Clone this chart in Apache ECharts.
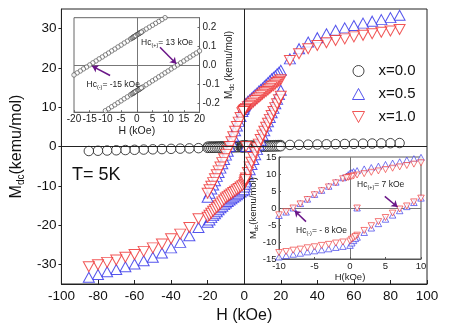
<!DOCTYPE html>
<html><head><meta charset="utf-8">
<script src="https://cdn.jsdelivr.net/npm/echarts@6/dist/echarts.min.js"></script>
<style>html,body{margin:0;padding:0;background:#fff}#c{width:474px;height:335px}</style>
</head><body><div id="c"></div>
<script>
// ---------- field grids (kOe) ----------
const H_OUT_POS = [85,80,75,70,65,60,55,50,45,40,35,30,25];
const H_OUT_NEG = [-25,-30,-35,-40,-45,-50,-55,-60,-65,-70,-75,-80,-85];
const H_DESC = [20,19,18,17,16,15,14,13,12,11,10,9,8,7,6,5,4,3,2,1,0,-1,-2,-3,-4,-5,-6,-7,-8,-9,-10,-11,-12,-13,-14,-15,-16,-17,-18,-19,-20];
const H_ASC = [-20,-19,-18,-17,-16,-15,-14,-13,-12,-11,-10,-9,-8,-7,-6,-5,-4,-3,-2,-1,0,1,2,3,4,5,6,7,8,9,10,11,12,13,14,15,16,17,18,19,20];
const H_FINE = [-1.5,-1.2,-0.9,-0.6,-0.3,0.3,0.6,0.9,1.2,1.5];
const H_ZERO_UP = [0.5,0.25,-0.25,-0.5];
const H_ZERO_LOW = [0.25,0.5,0.75];
const H_VIRGIN = [1];
const M_VIRGIN = [0];

// ---------- x = 0.0 (kemu/mol) ----------
const BLK_OUT_POS = [0.88,0.84,0.80,0.76,0.72,0.68,0.64,0.60,0.56,0.52,0.48,0.44,0.40];
const BLK_OUT_NEG = [-0.42,-0.48,-0.54,-0.60,-0.66,-0.72,-0.78,-0.84,-0.90,-0.96,-1.02,-1.08,-1.15];
const BLK_UP = [0.37,0.36,0.35,0.34,0.33,0.32,0.30,0.29,0.28,0.27,0.26,0.25,0.24,0.23,0.22,0.21,0.20,0.19,0.18,0.17,0.16,0.148,0.137,0.126,0.116,0.105,0.095,0.084,0.074,0.063,0.053,0.042,0.032,0.021,0.011,0.0,-0.011,-0.021,-0.032,-0.042,-0.053];
const BLK_LOW = [-0.347,-0.336,-0.326,-0.315,-0.305,-0.294,-0.284,-0.274,-0.263,-0.253,-0.242,-0.232,-0.221,-0.211,-0.2,-0.19,-0.179,-0.169,-0.158,-0.148,-0.137,-0.126,-0.116,-0.105,-0.095,-0.084,-0.074,-0.063,-0.053,-0.042,-0.032,-0.021,-0.011,0.0,0.011,0.021,0.032,0.042,0.053,0.063,0.074];
const BLK_UP_FINE = [0.142,0.145,0.149,0.152,0.155,0.162,0.165,0.168,0.171,0.174];
const BLK_LOW_FINE = [-0.153,-0.150,-0.146,-0.143,-0.140,-0.134,-0.131,-0.128,-0.124,-0.121];

// ---------- x = 0.5 ----------
const BLU_OUT_POS = [33.4,32.8,32.3,31.9,31.4,30.8,30.2,29.6,28.7,27.7,26.6,24.9,22.3];
const BLU_OUT_NEG = [-20.6,-22.7,-24.4,-25.8,-27.1,-28.2,-29.1,-29.9,-30.6,-31.3,-31.9,-32.6,-33.3];
const BLU_UP = [19.4,18.9,18.5,18.0,17.6,17.2,16.7,16.3,15.8,15.4,14.9,14.5,14.1,13.6,13.2,12.8,12.3,11.9,11.5,11.0,10.2,8.9,7.6,6.4,5.2,4.0,2.6,1.3,0.0,-1.2,-2.2,-3.3,-4.4,-5.5,-6.6,-7.6,-8.7,-9.8,-10.8,-11.9,-12.9];
const BLU_LOW = [-19.3,-18.7,-18.1,-17.6,-17.1,-16.6,-16.1,-15.6,-15.2,-14.8,-14.4,-14.0,-13.6,-13.3,-12.9,-12.6,-12.3,-12.0,-11.6,-11.3,-11.0,-8.6,-7.2,-5.9,-4.6,-3.3,-2.1,-0.8,0.4,1.6,2.9,4.0,5.2,6.3,7.4,8.6,9.7,10.9,12.0,13.2,14.3];
const BLU_ZERO_UP = [10.7,10.4,9.8,9.4];
const BLU_ZERO_LOW = [-10.3,-9.6,-9.0];

// ---------- x = 1.0 ----------
const RED_OUT_POS = [29.8,29.4,29.1,28.7,28.3,27.9,27.4,27.0,26.4,25.7,24.9,23.6,21.9];
const RED_OUT_NEG = [-18.4,-20.6,-22.3,-23.5,-24.8,-25.8,-26.7,-27.5,-28.2,-28.9,-29.5,-30.1,-30.6];
const RED_UP = [17.0,16.6,16.3,15.9,15.5,15.2,14.8,14.4,14.0,13.7,13.3,12.9,12.5,12.1,11.7,11.3,10.9,10.5,10.1,9.7,9.2,8.6,7.4,6.2,5.1,3.9,2.5,1.2,0.0,-1.1,-2.0,-3.1,-4.1,-5.2,-6.2,-7.2,-8.2,-9.2,-10.1,-11.0,-11.9];
const RED_LOW = [-18.0,-17.5,-17.0,-16.5,-16.0,-15.6,-15.1,-14.6,-14.1,-13.6,-13.1,-12.8,-12.4,-12.1,-11.7,-11.4,-11.0,-10.7,-10.3,-10.0,-9.7,-8.0,-6.6,-5.2,-4.0,-2.8,-1.5,-0.3,0.6,1.8,2.9,3.9,4.9,5.9,6.9,7.9,8.9,9.9,10.9,11.9,12.8];
const RED_ZERO_UP = [9.45,9.3,9.0,8.9];
const RED_ZERO_LOW = [-9.2,-8.8,-8.4];

// ---------- ticks ----------
const Y_MAIN_TICKS = [-30,-20,-10,0,10,20,30];
const Y_INSET1_TICKS = [-0.2,-0.1,0,0.1,0.2];

// ---------- build ----------
const zip = (h, m) => h.map((v, i) => [v, m[i]]);
const blackMain = [].concat(zip(H_OUT_POS,BLK_OUT_POS), zip(H_DESC,BLK_UP), zip(H_OUT_NEG,BLK_OUT_NEG), zip(H_ASC,BLK_LOW), zip(H_FINE,BLK_UP_FINE), zip(H_FINE,BLK_LOW_FINE));
const blackLoop = [].concat(zip(H_DESC,BLK_UP), zip(H_ASC,BLK_LOW));
const blackFine = [].concat(zip(H_FINE,BLK_UP_FINE), zip(H_FINE,BLK_LOW_FINE));
const blueAll = [].concat(zip(H_VIRGIN,M_VIRGIN), zip(H_OUT_POS,BLU_OUT_POS), zip(H_DESC,BLU_UP), zip(H_ZERO_UP,BLU_ZERO_UP), zip(H_OUT_NEG,BLU_OUT_NEG), zip(H_ASC,BLU_LOW), zip(H_ZERO_LOW,BLU_ZERO_LOW));
const redAll = [].concat(zip(H_VIRGIN,M_VIRGIN), zip(H_OUT_POS,RED_OUT_POS), zip(H_DESC,RED_UP), zip(H_ZERO_UP,RED_ZERO_UP), zip(H_OUT_NEG,RED_OUT_NEG), zip(H_ASC,RED_LOW), zip(H_ZERO_LOW,RED_ZERO_LOW));

const FONT = 'Liberation Sans, Arial, sans-serif';
const BLUE = '#2a2ae8', RED = '#ee2c2c', BLK = '#1a1a1a', PURPLE = '#6a1688', TXT = '#111';
const DOWN_TRI = 'path://M0,0L12,0L6,11Z';
const subRich = (fs, lh) => ({ s: { fontSize: fs, lineHeight: lh, verticalAlign: 'bottom', fontFamily: FONT, color: TXT } });
const hcStyle = (t) => ({ text: t, fontSize: 8.5, lineHeight: 11, fontFamily: FONT, fill: '#222',
  rich: { s: { fontSize: 5.5, lineHeight: 5, verticalAlign: 'bottom', fontFamily: FONT, fill: '#222' } } });

const chart = echarts.init(document.getElementById('c'), null, { renderer: 'canvas' });
chart.setOption({
  animation: false,
  backgroundColor: '#fff',
  textStyle: { fontFamily: FONT },
  grid: [
    { left: 58, top: 9, width: 369, height: 275, show: true, borderColor: '#222', borderWidth: 1, backgroundColor: 'transparent' },
    { left: 74, top: 17.7, width: 125.5, height: 94.5, show: true, z: 10, backgroundColor: '#fff', borderColor: '#666', borderWidth: 1 },
    { left: 279, top: 157, width: 142, height: 102, show: true, z: 10, backgroundColor: '#fff', borderColor: '#555', borderWidth: 1 }
  ],
  xAxis: [
    { gridIndex: 0, type: 'value', min: -100, max: 100, interval: 20,
      axisLine: { onZero: false, lineStyle: { color: '#222' } },
      axisTick: { inside: true, length: 4, lineStyle: { color: '#222' } },
      splitLine: { show: false },
      axisLabel: { fontSize: 13.5, color: TXT, margin: 5 },
      name: 'H (kOe)', nameLocation: 'middle', nameGap: 22, nameTextStyle: { fontSize: 16, color: TXT } },
    { gridIndex: 1, type: 'value', min: -20, max: 20, interval: 5, z: 11,
      axisLine: { onZero: false, lineStyle: { color: '#666' } },
      axisTick: { inside: true, length: 2, lineStyle: { color: '#666' } },
      splitLine: { show: false },
      axisLabel: { fontSize: 10, color: '#222', margin: 2.5 },
      name: 'H (kOe)', nameLocation: 'middle', nameGap: 11, nameTextStyle: { fontSize: 10.5, color: '#222' } },
    { gridIndex: 2, type: 'value', min: -10, max: 10, interval: 5, z: 11,
      axisLine: { onZero: false, lineStyle: { color: '#555' } },
      axisTick: { inside: true, length: 2, lineStyle: { color: '#555' } },
      splitLine: { show: false },
      axisLabel: { fontSize: 9.5, color: '#222', margin: 2 },
      name: 'H(kOe)', nameLocation: 'middle', nameGap: 10, nameTextStyle: { fontSize: 9.5, color: '#222' } }
  ],
  yAxis: [
    { gridIndex: 0, type: 'value', min: -35, max: 35,
      axisLine: { onZero: false, lineStyle: { color: '#222' } },
      axisTick: { inside: false, length: 3, customValues: Y_MAIN_TICKS, lineStyle: { color: '#222' } },
      splitLine: { show: false },
      axisLabel: { fontSize: 13.5, color: TXT, margin: 5, customValues: Y_MAIN_TICKS },
      name: 'M{s|dc}(kemu/mol)', nameLocation: 'middle', nameGap: 33,
      nameTextStyle: { fontSize: 16, color: TXT, lineHeight: 18, rich: subRich(10, 8) } },
    { gridIndex: 1, type: 'value', position: 'right', min: -0.25, max: 0.25, z: 11,
      axisLine: { onZero: false, lineStyle: { color: '#666' } },
      axisTick: { inside: true, length: 2, customValues: Y_INSET1_TICKS, lineStyle: { color: '#666' } },
      splitLine: { show: false },
      axisLabel: { fontSize: 10, color: '#222', margin: 3, customValues: Y_INSET1_TICKS, formatter: v => v.toFixed(1) },
      name: 'M{s|dc} (kemu/mol)', nameLocation: 'middle', nameGap: 19,
      nameTextStyle: { fontSize: 10, color: '#222', lineHeight: 12, rich: subRich(6.5, 6) } },
    { gridIndex: 2, type: 'value', min: -15, max: 15, interval: 5, z: 11,
      axisLine: { onZero: false, lineStyle: { color: '#555' } },
      axisTick: { inside: true, length: 2, lineStyle: { color: '#555' } },
      splitLine: { show: false },
      axisLabel: { fontSize: 9.5, color: '#222', margin: 2.5 },
      name: 'M{s|dc}(kemu/mol)', nameLocation: 'middle', nameGap: 16,
      nameTextStyle: { fontSize: 9.5, color: '#222', lineHeight: 11, rich: subRich(6, 5) } }
  ],
  legend: {
    left: 347, top: 58.5, orient: 'vertical', itemWidth: 12, itemHeight: 11, itemGap: 8,
    data: [
      { name: 'x=0.0' },
      { name: 'x=0.5' },
      { name: 'x=1.0', icon: DOWN_TRI, itemStyle: { color: '#fff', borderColor: RED, borderWidth: 1 } }
    ],
    textStyle: { fontSize: 15, color: TXT, padding: [0, 0, 0, 9] },
    itemStyle: { borderWidth: 1 },
    selectedMode: false
  },
  graphic: [
    { type: 'text', left: 72, top: 166, z: 5, style: { text: 'T= 5K', fontSize: 18, fontFamily: FONT, fill: TXT } },
    { type: 'text', left: 141, top: 37, z: 30, style: hcStyle('Hc{s|(+)}= 13 kOe') },
    { type: 'text', left: 86.5, top: 79, z: 30, style: hcStyle('Hc{s|(-)}= -15 kOe') },
    { type: 'text', left: 357, top: 179, z: 30, style: hcStyle('Hc{s|(+)}= 7 kOe') },
    { type: 'text', left: 296, top: 225, z: 30, style: hcStyle('Hc{s|(-)}= - 8 kOe') }
  ],
  series: [
    { name: 'x=0.0', type: 'scatter', xAxisIndex: 0, yAxisIndex: 0, z: 2,
      symbol: 'circle', symbolSize: 9.5, data: blackMain,
      itemStyle: { color: '#fff', borderColor: BLK, borderWidth: 1 },
      markLine: { silent: true, symbol: ['none', 'none'], label: { show: false },
        lineStyle: { color: '#222', width: 1, type: 'solid' },
        data: [{ xAxis: 0 }, { yAxis: 0 }] } },
    { name: 'x=0.5', type: 'scatter', xAxisIndex: 0, yAxisIndex: 0, z: 3,
      symbol: 'triangle', symbolSize: [11, 10], data: blueAll,
      itemStyle: { color: '#fff', borderColor: BLUE, borderWidth: 1 } },
    { name: 'x=1.0', type: 'scatter', xAxisIndex: 0, yAxisIndex: 0, z: 4,
      symbol: 'triangle', symbolRotate: 180, symbolSize: [11, 10], data: redAll,
      itemStyle: { color: '#fff', borderColor: RED, borderWidth: 1 } },

    { name: 'in1', type: 'scatter', xAxisIndex: 1, yAxisIndex: 1, z: 12,
      symbol: 'circle', symbolSize: 4.5, data: blackLoop,
      itemStyle: { color: '#fff', borderColor: '#444', borderWidth: 0.8 },
      markLine: { silent: true, z: 11, symbol: ['none', 'none'], label: { show: false },
        lineStyle: { color: '#777', width: 1, type: 'solid' },
        data: [{ xAxis: 0 }, { yAxis: 0 }] } },
    { name: 'in1f', type: 'scatter', xAxisIndex: 1, yAxisIndex: 1, z: 12,
      symbol: 'circle', symbolSize: 4.5, data: blackFine,
      itemStyle: { color: '#fff', borderColor: '#333', borderWidth: 0.8 },
      markLine: { silent: true, z: 13, symbol: ['none', 'arrow'], symbolSize: 6, label: { show: false },
        lineStyle: { color: PURPLE, width: 1.5, type: 'solid' },
        data: [
          [{ coord: [7.4, 0.094] }, { coord: [12.6, 0.006] }],
          [{ coord: [-8.5, -0.056] }, { coord: [-14.2, -0.006] }]
        ] } },

    { name: 'in2b', type: 'scatter', xAxisIndex: 2, yAxisIndex: 2, z: 12,
      symbol: 'triangle', symbolSize: [6.5, 6], data: blueAll,
      itemStyle: { color: '#fff', borderColor: BLUE, borderWidth: 0.8 },
      markLine: { silent: true, z: 11, symbol: ['none', 'none'], label: { show: false },
        lineStyle: { color: '#777', width: 1, type: 'solid' },
        data: [{ xAxis: 0 }, { yAxis: 0 }] } },
    { name: 'in2r', type: 'scatter', xAxisIndex: 2, yAxisIndex: 2, z: 12,
      symbol: 'triangle', symbolRotate: 180, symbolSize: [6.5, 6], data: redAll,
      itemStyle: { color: '#fff', borderColor: RED, borderWidth: 0.8 },
      markLine: { silent: true, z: 13, symbol: ['none', 'arrow'], symbolSize: 6, label: { show: false },
        lineStyle: { color: PURPLE, width: 1.5, type: 'solid' },
        data: [
          [{ coord: [4.9, 3.4] }, { coord: [6.7, 0.3] }],
          [{ coord: [-6.2, -4.0] }, { coord: [-7.8, -0.8] }]
        ] } }
  ]
});
</script></body></html>
